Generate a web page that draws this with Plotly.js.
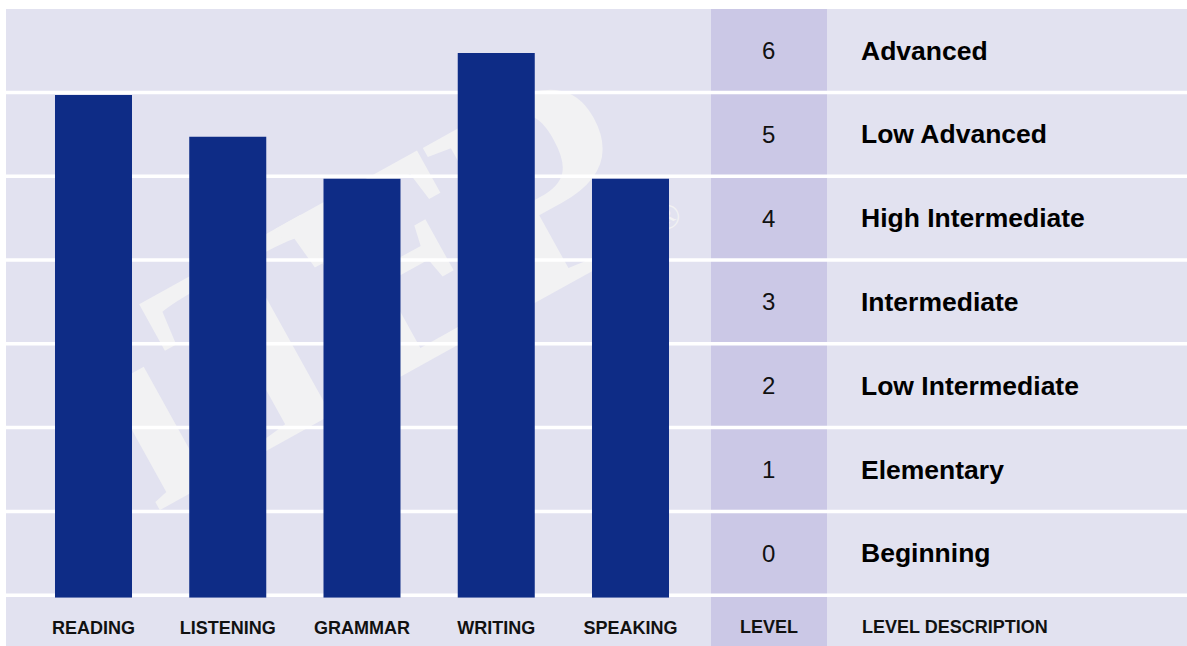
<!DOCTYPE html>
<html>
<head>
<meta charset="utf-8">
<script src="https://cdn.plot.ly/plotly-3.0.1.min.js"></script>
<style>
  html, body { margin: 0; padding: 0; background: #ffffff; }
  #wrap { position: relative; width: 1187px; height: 646px; }
  #bg, #chart { position: absolute; left: 0; top: 0; width: 1187px; height: 646px; }
</style>
</head>
<body>
<div id="wrap">
  <div id="bg"></div>
  <div id="chart"></div>
</div>
<script>
// ---- data ----
const skills = ['READING', 'LISTENING', 'GRAMMAR', 'WRITING', 'SPEAKING'];
const scores = [6, 5.5, 5, 6.5, 5];
const levels = [6, 5, 4, 3, 2, 1, 0];
const levelNames = ['Advanced', 'Low Advanced', 'High Intermediate', 'Intermediate',
                    'Low Intermediate', 'Elementary', 'Beginning'];
const headers = ['LEVEL', 'LEVEL DESCRIPTION'];
const watermarkLetters = ['i', 'T', 'E', 'P'];
const watermarkMark = '\u00ae';

// ---- geometry helpers ----
const W = 1187, H = 646;
const px = x => x / W;
const py = y => 1 - y / H;

const LAV = '#e2e2f0';
const LEVELCOL = '#cbc8e6';
const NAVY = '#0e2c86';
const WM = '#f2f2f3';
const FONT = 'Liberation Sans, Arial, sans-serif';
const SERIF = 'Liberation Serif, Times New Roman, serif';

// watermark placement (layout only): letters laid along a baseline tilted 29 degrees
const WM_ANGLE = 29;
const WM_SIZE = 290;
const wmLast = [540, 188];          // centre of the last letter, in pixels
const wmGaps = [140, 155, 160];     // distances between successive letter centres
const dirX = Math.cos(WM_ANGLE * Math.PI / 180), dirY = -Math.sin(WM_ANGLE * Math.PI / 180);
const wmCentres = [];
{
  let cx = wmLast[0], cy = wmLast[1];
  wmCentres.unshift([cx, cy]);
  for (let k = wmGaps.length - 1; k >= 0; k--) {
    cx -= wmGaps[k] * dirX; cy -= wmGaps[k] * dirY;
    wmCentres.unshift([cx, cy]);
  }
}

const bgAnnotations = watermarkLetters.map((ch, i) => ({
  xref: 'paper', yref: 'paper', x: px(wmCentres[i][0]), y: py(wmCentres[i][1]),
  xanchor: 'center', yanchor: 'middle', text: ch, showarrow: false, textangle: -WM_ANGLE,
  font: {family: SERIF, size: WM_SIZE, color: WM, weight: 'bold'}
}));
bgAnnotations.push({
  xref: 'paper', yref: 'paper', x: px(666), y: py(217), xanchor: 'center', yanchor: 'middle',
  text: watermarkMark, showarrow: false, textangle: -WM_ANGLE,
  font: {family: SERIF, size: 36, color: WM}
});

// ---- background layer (lavender + watermark) ----
const bgLayout = {
  width: W, height: H,
  margin: {l: 0, r: 0, t: 0, b: 0},
  paper_bgcolor: '#ffffff',
  plot_bgcolor: 'rgba(0,0,0,0)',
  xaxis: {visible: false, range: [0, 1], fixedrange: true},
  yaxis: {visible: false, range: [0, 1], fixedrange: true},
  showlegend: false,
  shapes: [
    {type: 'rect', xref: 'paper', yref: 'paper', x0: px(6), x1: 1, y0: 0, y1: py(9),
     fillcolor: LAV, line: {width: 0}, layer: 'below'}
  ],
  annotations: bgAnnotations
};
Plotly.newPlot('bg', [], bgLayout, {staticPlot: true, displayModeBar: false});

// ---- chart layer ----
const shapes = [];
// level column
shapes.push({type: 'rect', xref: 'paper', yref: 'paper', x0: px(711), x1: px(827), y0: 0, y1: py(9),
             fillcolor: LEVELCOL, line: {width: 0}, layer: 'below'});
// white row separators
levels.forEach(lv => {
  shapes.push({type: 'line', xref: 'paper', yref: 'y', ysizemode: 'pixel', yanchor: lv,
               x0: px(6), x1: 1, y0: 2.5, y1: 2.5,
               line: {color: '#ffffff', width: 3.5}, layer: 'below'});
});

const annotations = [];
levels.forEach((lv, i) => {
  annotations.push({xref: 'paper', yref: 'y', x: px(768.5), y: lv + 0.5, yshift: 2.5,
                    xanchor: 'center', yanchor: 'middle', showarrow: false,
                    text: String(lv), font: {family: FONT, size: 24, color: '#111111'}});
  annotations.push({xref: 'paper', yref: 'y', x: px(859), y: lv + 0.5, yshift: 2.5,
                    xanchor: 'left', yanchor: 'middle', showarrow: false,
                    text: levelNames[i], font: {family: FONT, size: 26.5, color: '#000000', weight: 'bold'}});
});
annotations.push({xref: 'paper', yref: 'paper', x: px(769), y: py(627), xanchor: 'center', yanchor: 'middle',
                  showarrow: false, text: headers[0],
                  font: {family: FONT, size: 18, color: '#111111', weight: 'bold'}});
annotations.push({xref: 'paper', yref: 'paper', x: px(860), y: py(627), xanchor: 'left', yanchor: 'middle',
                  showarrow: false, text: headers[1],
                  font: {family: FONT, size: 18, color: '#111111', weight: 'bold'}});

const trace = {
  type: 'bar',
  x: skills,
  y: scores,
  marker: {color: NAVY, line: {width: 0}},
  hoverinfo: 'skip'
};

const layout = {
  width: W, height: H,
  margin: {l: 0, r: 0, t: 0, b: 0},
  paper_bgcolor: 'rgba(0,0,0,0)',
  plot_bgcolor: 'rgba(0,0,0,0)',
  bargap: 0.4264,
  showlegend: false,
  xaxis: {
    domain: [px(26.375), px(697.625)],
    type: 'category',
    range: [-0.5, 4.5],
    showgrid: false, zeroline: false, showline: false, ticks: '',
    ticklabelstandoff: 17,
    tickfont: {family: FONT, size: 18, color: '#111111', weight: 'bold'},
    fixedrange: true
  },
  yaxis: {
    domain: [py(597.7), py(11.1)],
    range: [0, 7],
    visible: false,
    fixedrange: true
  },
  shapes: shapes,
  annotations: annotations
};

Plotly.newPlot('chart', [trace], layout, {staticPlot: true, displayModeBar: false});
</script>
</body>
</html>
